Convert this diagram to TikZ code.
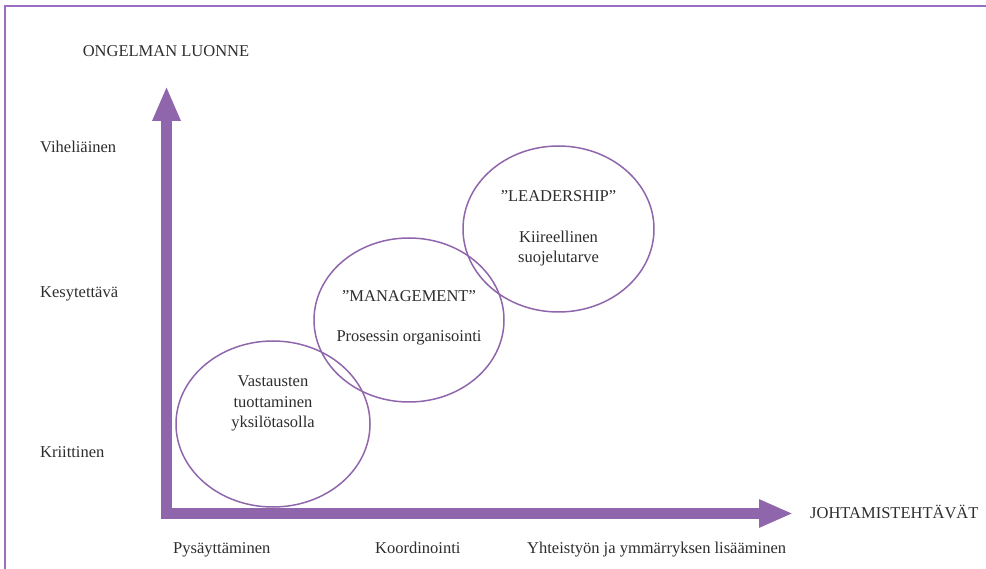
\documentclass[tikz,border=0pt]{standalone}
\usepackage{fontspec}
\setmainfont{Liberation Serif}
\usetikzlibrary{arrows.meta,shapes.geometric}
\definecolor{vio}{RGB}{143,102,171}
\definecolor{frame}{RGB}{155,110,195}
\definecolor{txt}{RGB}{45,45,45}
\tikzset{
  lbl/.style={text=txt,font=\fontsize{16.5}{20.5}\selectfont,inner sep=0pt},
  bubble/.style={ellipse,draw=vio,line width=1.5pt,inner sep=0pt},
  axis/.style={draw=vio,line width=11pt,line join=miter,
    {Triangle[length=35pt,width=26pt]}-{Triangle[length=34pt,width=26pt]}},
}
\begin{document}
\begin{tikzpicture}[x=1pt,y=-1pt]
\useasboundingbox (0,0) rectangle (986,569);
% frame
\coordinate (fbl) at (5,569);
\coordinate (ftl) at (5,6);
\coordinate (ftr) at (986,6);
\draw[frame,line width=2.2pt] (fbl) -- (ftl) -- (ftr);
% axes
\coordinate (Ytip) at (166.5,86);
\coordinate (Xtip) at (793,513.5);
\draw[axis] (Ytip) |- (Xtip);
% bubbles
\node[bubble,minimum width=194pt,minimum height=166pt] (e1) at (273,424) {};
\node[bubble,minimum width=190pt,minimum height=164pt] (e2) at (409,320) {};
\node[bubble,minimum width=191pt,minimum height=166pt] (e3) at (558.5,229) {};
% bubble texts
\node[lbl,align=center,anchor=base] (t1) at (273,428) {Vastausten\\tuottaminen\\yksilötasolla};
\node[lbl,anchor=base] (t2a) at (409,302) {”MANAGEMENT”};
\node[lbl,anchor=base] (t2b) at (409,342) {Prosessin organisointi};
\node[lbl,anchor=base] (t3a) at (558.5,202) {”LEADERSHIP”};
\node[lbl,align=center,anchor=base] (t3b) at (558.5,263) {Kiireellinen\\suojelutarve};
% axis labels
\node[lbl,anchor=base] (ytitle) at (166,57) {ONGELMAN LUONNE};
\node[lbl,anchor=base west] (l1) at (40,153) {Viheliäinen};
\node[lbl,anchor=base west] (l2) at (40,298) {Kesytettävä};
\node[lbl,anchor=base west] (l3) at (40,457) {Kriittinen};
\node[lbl,anchor=base west] (xtitle) at (810,518) {JOHTAMISTEHTÄVÄT};
\node[lbl,anchor=base west] (b1) at (173,553) {Pysäyttäminen};
\node[lbl,anchor=base west] (b2) at (375,553) {Koordinointi};
\node[lbl,anchor=base west] (b3) at (527,553) {Yhteistyön ja ymmärryksen lisääminen};
\end{tikzpicture}
\end{document}
